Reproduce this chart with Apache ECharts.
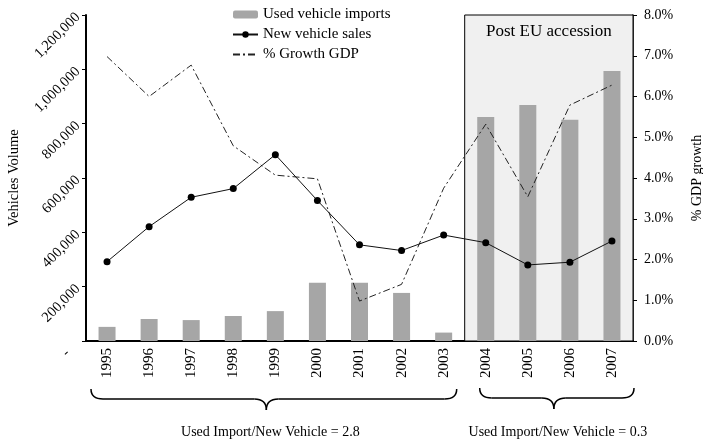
<!DOCTYPE html>
<html>
<head>
<meta charset="utf-8">
<script src="https://cdn.jsdelivr.net/npm/echarts@6/dist/echarts.min.js"></script>
<style>
    html, body { margin: 0; padding: 0; background: #fff; }
    #main { width: 703px; height: 443px; }
</style>
</head>
<body>
<div id="main"></div>
<script>
// data
const years = ['1995', '1996', '1997', '1998', '1999', '2000', '2001', '2002', '2003', '2004', '2005', '2006', '2007'];
const usedImports = [52000, 81000, 77000, 92000, 110000, 214000, 214000, 177000, 31000, 825000, 869000, 814000, 994000];
const newSales = [292000, 421000, 529000, 561000, 686000, 517000, 354000, 333000, 390000, 362000, 280000, 290000, 368000];
const gdpGrowth = [6.98, 6.0, 6.77, 4.79, 4.07, 3.98, 0.98, 1.39, 3.75, 5.32, 3.54, 5.79, 6.28];
const ratioLabels = ['Used Import/New Vehicle = 2.8', 'Used Import/New Vehicle = 0.3'];

const FONT = '"Liberation Serif", "DejaVu Serif", serif';

let option = {
    animation: false,
    textStyle: { fontFamily: FONT, color: '#000' },
    grid: { left: 86, right: 70, top: 15, bottom: 102, outerBoundsMode: 'none' },
    legend: {
        orient: 'vertical',
        left: 227,
        top: 2,
        itemWidth: 25,
        itemHeight: 8,
        itemGap: 5,
        textStyle: { fontFamily: FONT, fontSize: 15, color: '#000' },
        data: [
            'Used vehicle imports',
            'New vehicle sales',
            { name: '% Growth GDP', itemStyle: { opacity: 0 } }
        ]
    },
    xAxis: {
        type: 'category',
        data: years,
        axisLine: { lineStyle: { color: '#000', width: 2 } },
        axisTick: { length: 5, lineStyle: { color: '#000', width: 2 } },
        axisLabel: { rotate: 90, fontSize: 15, color: '#000', fontFamily: FONT, margin: 7 }
    },
    yAxis: [
        {
            type: 'value',
            min: 0,
            max: 1200000,
            interval: 200000,
            name: 'Vehicles Volume',
            nameLocation: 'middle',
            nameGap: 62,
            nameTextStyle: { fontSize: 14.5, fontFamily: FONT, color: '#000' },
            splitLine: { show: false },
            axisLine: { show: true, lineStyle: { color: '#000', width: 2 } },
            axisTick: { show: true, length: 4, lineStyle: { color: '#000' } },
            axisLabel: {
                rotate: 45,
                fontSize: 14.5,
                color: '#000',
                fontFamily: FONT,
                margin: 8,
                formatter: function (v) {
                    return v === 0 ? '-    ' : v.toLocaleString('en-US');
                }
            }
        },
        {
            type: 'value',
            position: 'right',
            min: 0,
            max: 8,
            interval: 1,
            name: '% GDP growth',
            nameLocation: 'middle',
            nameGap: 57,
            nameTextStyle: { fontSize: 14, fontFamily: FONT, color: '#000' },
            splitLine: { show: false },
            axisLine: { show: true, lineStyle: { color: '#000', width: 1.5 } },
            axisTick: { show: true, length: 4, lineStyle: { color: '#000' } },
            axisLabel: {
                fontSize: 14,
                color: '#000',
                fontFamily: FONT,
                margin: 11,
                formatter: function (v) { return v.toFixed(1) + '%'; }
            }
        }
    ],
    series: [
        {
            name: 'Used vehicle imports',
            type: 'bar',
            data: usedImports,
            barWidth: 17,
            z: 2,
            itemStyle: { color: '#a6a6a6' }
        },
        {
            name: 'New vehicle sales',
            type: 'line',
            data: newSales,
            symbol: 'circle',
            symbolSize: 7,
            z: 4,
            itemStyle: { color: '#000' },
            lineStyle: { color: '#111', width: 1 }
        },
        {
            name: '% Growth GDP',
            type: 'line',
            yAxisIndex: 1,
            data: gdpGrowth,
            symbol: 'none',
            z: 3,
            itemStyle: { color: '#222' },
            lineStyle: { color: '#222', width: 1, type: [7, 3, 2, 3] }
        }
    ]
};

let myChart = echarts.init(document.getElementById('main'));
myChart.setOption(option);

// curly brace from plain curve and line pieces
function brace(x1, x2, xm, y1, yh, yt) {
    let r = 12;
    let st = { stroke: '#000', lineWidth: 1.5, fill: null };
    return [
        { type: 'bezierCurve', shape: { x1: x1, y1: y1, cpx1: x1, cpy1: yh, x2: x1 + r, y2: yh }, style: st },
        { type: 'line', shape: { x1: x1 + r, y1: yh, x2: xm - r, y2: yh }, style: st },
        { type: 'bezierCurve', shape: { x1: xm - r, y1: yh, cpx1: xm, cpy1: yh, x2: xm, y2: yt }, style: st },
        { type: 'bezierCurve', shape: { x1: xm, y1: yt, cpx1: xm, cpy1: yh, x2: xm + r, y2: yh }, style: st },
        { type: 'line', shape: { x1: xm + r, y1: yh, x2: x2 - r, y2: yh }, style: st },
        { type: 'bezierCurve', shape: { x1: x2 - r, y1: yh, cpx1: x2, cpy1: yh, x2: x2, y2: y1 }, style: st }
    ];
}

let px = function (cat) { return myChart.convertToPixel({ xAxisIndex: 0 }, cat); };
let band = px('1996') - px('1995');
let yTop = myChart.convertToPixel({ yAxisIndex: 0 }, 1200000);
let yBottom = myChart.convertToPixel({ yAxisIndex: 0 }, 0);
let boxLeft = (px('2003') + px('2004')) / 2;
let boxRight = px('2007') + band / 2;

let b1x1 = px('1995') - band / 2 + 5;
let b1x2 = boxLeft - 8;
let b1xm = (px('1995') + px('2003')) / 2 - 9;
let b2x1 = boxLeft + 15;
let b2x2 = boxRight + 1;
let b2xm = (px('2004') + px('2007')) / 2 + 5;

let graphics = [
    {
        type: 'rect',
        z: 1,
        shape: { x: boxLeft, y: yTop, width: boxRight - boxLeft, height: yBottom - yTop },
        style: { fill: '#f0f0f0', stroke: '#000', lineWidth: 1 }
    },
    {
        type: 'text',
        z: 5,
        x: (boxLeft + boxRight) / 2,
        y: yTop + 17,
        style: { text: 'Post EU accession', font: '17px ' + FONT, fill: '#000', align: 'center', verticalAlign: 'middle' }
    },
    {
        type: 'text',
        x: b1xm + 4,
        y: 432,
        style: { text: ratioLabels[0], font: '14px ' + FONT, fill: '#000', align: 'center', verticalAlign: 'middle' }
    },
    {
        type: 'text',
        x: b2xm + 4,
        y: 432,
        style: { text: ratioLabels[1], font: '14px ' + FONT, fill: '#000', align: 'center', verticalAlign: 'middle' }
    }
];
graphics = graphics.concat(brace(b1x1, b1x2, b1xm, 389, 399, 410));
graphics = graphics.concat(brace(b2x1, b2x2, b2xm, 388, 398, 409));

myChart.setOption({ graphic: graphics });
</script>
</body>
</html>
